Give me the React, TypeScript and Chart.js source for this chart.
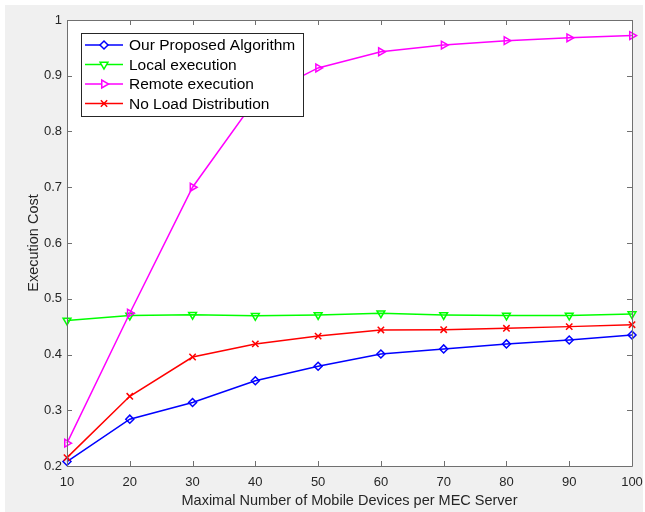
import React, { useEffect, useRef } from 'react';
import { Chart, registerables } from 'chart.js';
import { drawPoint } from 'chart.js/helpers';

Chart.register(...registerables);

const devices = [10, 20, 30, 40, 50, 60, 70, 80, 90, 100];
const proposed = [0.208, 0.284, 0.314, 0.353, 0.379, 0.401, 0.41, 0.419, 0.426, 0.435];
const local = [0.461, 0.47, 0.4715, 0.4695, 0.471, 0.474, 0.471, 0.47, 0.47, 0.4725];
const remote = [0.241, 0.474, 0.7, 0.857, 0.914, 0.943, 0.955, 0.963, 0.968, 0.972];
const noLoad = [0.215, 0.325, 0.3955, 0.419, 0.433, 0.444, 0.4445, 0.447, 0.45, 0.4535];
const seriesNames = ['Our Proposed Algorithm', 'Local execution', 'Remote execution', 'No Load Distribution'];
const xTitle = 'Maximal Number of Mobile Devices per MEC Server';
const yTitle = 'Execution Cost';

const FONT = '"Liberation Sans", Helvetica, Arial, sans-serif';
const AXIS_COLOR = '#707070';
const TEXT_COLOR = '#262626';

const styles = [
  { color: '#0000ff', pointStyle: 'rectRot', rotation: 0, radius: 4 },
  { color: '#00ff00', pointStyle: 'triangle', rotation: 180, radius: 4.5 },
  { color: '#ff00ff', pointStyle: 'triangle', rotation: 90, radius: 4.5 },
  { color: '#ff0000', pointStyle: 'crossRot', rotation: 0, radius: 4.5 },
];
const seriesValues = [proposed, local, remote, noLoad];

const framePlugin = {
  id: 'frame',
  beforeDraw(chart: any) {
    const { ctx, chartArea, width, height } = chart;
    ctx.save();
    ctx.fillStyle = '#ffffff';
    ctx.fillRect(0, 0, width, height);
    ctx.fillStyle = '#f0f0f0';
    ctx.fillRect(5, 5, 638, 507);
    ctx.fillStyle = '#ffffff';
    ctx.fillRect(chartArea.left, chartArea.top, chartArea.right - chartArea.left, chartArea.bottom - chartArea.top);
    ctx.restore();
  },
  afterDraw(chart: any) {
    const { ctx, chartArea } = chart;
    const { left, right, top, bottom } = chartArea;
    const xs = chart.scales.x;
    const ys = chart.scales.y;
    ctx.save();
    ctx.strokeStyle = AXIS_COLOR;
    ctx.lineWidth = 1;
    ctx.beginPath();
    ctx.rect(Math.round(left) + 0.5, Math.round(top) + 0.5, Math.round(right - left), Math.round(bottom - top));
    ctx.stroke();
    const tl = 5;
    ctx.beginPath();
    xs.ticks.forEach((t: any) => {
      const px = Math.round(xs.getPixelForValue(t.value)) + 0.5;
      ctx.moveTo(px, bottom);
      ctx.lineTo(px, bottom - tl);
      ctx.moveTo(px, top);
      ctx.lineTo(px, top + tl);
    });
    ys.ticks.forEach((t: any) => {
      const py = Math.round(ys.getPixelForValue(t.value)) + 0.5;
      ctx.moveTo(left, py);
      ctx.lineTo(left + tl, py);
      ctx.moveTo(right, py);
      ctx.lineTo(right - tl, py);
    });
    ctx.stroke();

    // legend
    const lx = 81, ly = 33, lw = 222, lh = 83;
    ctx.fillStyle = '#ffffff';
    ctx.fillRect(lx, ly, lw, lh);
    ctx.strokeStyle = '#262626';
    ctx.lineWidth = 1;
    ctx.strokeRect(lx + 0.5, ly + 0.5, lw, lh);
    const rows = [45, 64.5, 84, 103.5];
    ctx.font = `15.5px ${FONT}`;
    ctx.textBaseline = 'middle';
    ctx.textAlign = 'left';
    seriesNames.forEach((name, i) => {
      const s = styles[i];
      const y = rows[i];
      ctx.strokeStyle = s.color;
      ctx.lineWidth = 1.5;
      ctx.beginPath();
      ctx.moveTo(85, y);
      ctx.lineTo(123, y);
      ctx.stroke();
      ctx.fillStyle = '#ffffff';
      drawPoint(ctx, { pointStyle: s.pointStyle, rotation: s.rotation, radius: s.radius, borderWidth: 1.5 } as any, 104, y);
      ctx.fillStyle = '#000000';
      ctx.fillText(name, 129, y + 1);
    });
    ctx.restore();
  },
};

export default function App() {
  const ref = useRef<HTMLCanvasElement>(null);
  useEffect(() => {
    document.body.style.margin = '0';
    const canvas = ref.current!;
    const chart = new Chart(canvas, {
      type: 'line',
      data: {
        datasets: seriesValues.map((vals, i) => ({
          label: seriesNames[i],
          data: devices.map((x, j) => ({ x, y: vals[j] })),
          borderColor: styles[i].color,
          backgroundColor: 'rgba(0,0,0,0)',
          borderWidth: 1.5,
          pointStyle: styles[i].pointStyle as any,
          rotation: styles[i].rotation,
          pointRadius: styles[i].radius,
          pointBorderWidth: 1.5,
          pointBorderColor: styles[i].color,
          pointBackgroundColor: 'rgba(0,0,0,0)',
          tension: 0,
          clip: false as any,
          order: 3 - i,
        })),
      },
      options: {
        responsive: false,
        animation: false,
        events: [],
        layout: { padding: { left: 0, top: 20, right: 13, bottom: 0 } },
        plugins: { legend: { display: false }, tooltip: { enabled: false } },
        scales: {
          x: {
            type: 'linear',
            min: 10,
            max: 100,
            grid: { display: false, drawTicks: false },
            border: { display: false },
            ticks: { stepSize: 10, padding: 9, color: TEXT_COLOR, font: { family: FONT, size: 13 }, maxRotation: 0 },
            title: { display: true, text: xTitle, color: TEXT_COLOR, font: { family: FONT, size: 14.5 }, padding: { top: 2.5, bottom: 2.5 } },
            afterFit: (s: any) => { s.height = 46; s.paddingLeft = 0; s.paddingRight = 0; },
          },
          y: {
            type: 'linear',
            min: 0.2,
            max: 1,
            grid: { display: false, drawTicks: false },
            border: { display: false },
            ticks: {
              stepSize: 0.1,
              padding: 5,
              color: TEXT_COLOR,
              font: { family: FONT, size: 13 },
              callback: (v: any) => String(Number(Number(v).toFixed(1))),
            },
            title: { display: true, text: yTitle, color: TEXT_COLOR, font: { family: FONT, size: 14.5 }, padding: { top: 25, bottom: 25 } },
            afterFit: (s: any) => { s.width = 67; s.paddingTop = 0; s.paddingBottom = 0; },
          },
        },
      },
      plugins: [framePlugin],
    });
    return () => chart.destroy();
  }, []);
  return (
    <div style={{ position: 'absolute', left: 0, top: 0 }}>
      <canvas ref={ref} width={645} height={512} style={{ display: 'block', width: 645, height: 512 }} />
    </div>
  );
}
